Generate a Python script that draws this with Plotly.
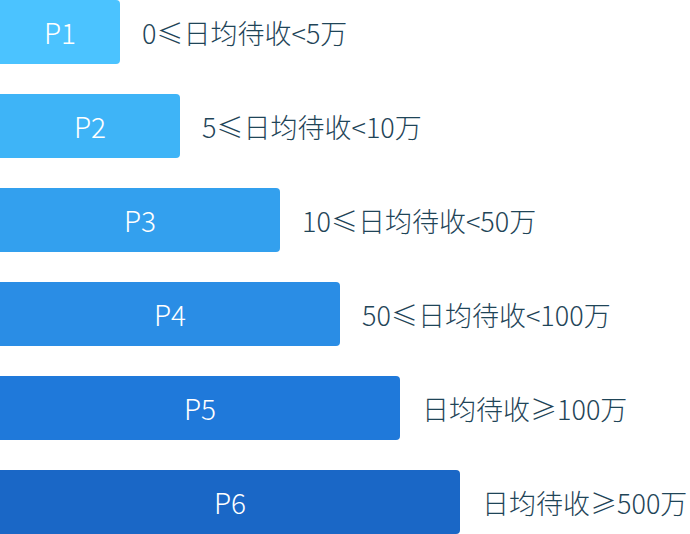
import plotly.graph_objects as go

levels = ["P1", "P2", "P3", "P4", "P5", "P6"]
bar_lengths = [120, 180, 280, 340, 400, 460]
descriptions = ["0≤日均待收<5万", "5≤日均待收<10万", "10≤日均待收<50万",
                "50≤日均待收<100万", "日均待收≥100万", "日均待收≥500万"]
colors = ["#4bc3ff", "#3eb4f7", "#33a0ee", "#2a8de5", "#1f79da", "#1a67c6"]

positions = list(range(len(levels)))

fig = go.Figure()
fig.add_trace(go.Bar(
    x=bar_lengths, y=positions, orientation="h",
    width=64 / 94,
    marker=dict(color=colors, line=dict(width=0)),
    text=levels, textposition="inside", insidetextanchor="middle",
    textfont=dict(color="white", size=28, family="Noto Sans CJK SC", weight=300),
    hoverinfo="skip",
))

for p, L, d in zip(positions, bar_lengths, descriptions):
    fig.add_annotation(x=L, y=p, text=d, xanchor="left", yanchor="middle",
                       xshift=20, showarrow=False,
                       font=dict(size=27, color="#1f4558", family="Noto Sans CJK SC", weight=300))

fig.update_layout(
    width=690, height=534,
    margin=dict(l=0, r=0, t=0, b=0),
    paper_bgcolor="white", plot_bgcolor="white",
    barcornerradius=4,
    showlegend=False,
    xaxis=dict(range=[0, 690], visible=False, fixedrange=True),
    yaxis=dict(range=[5 + 32 / 94, -32 / 94], visible=False, fixedrange=True),
    uniformtext=dict(mode=False),
)

fig.write_html("out.html", config={"displayModeBar": False},
               post_script="document.body.style.margin='0';")
